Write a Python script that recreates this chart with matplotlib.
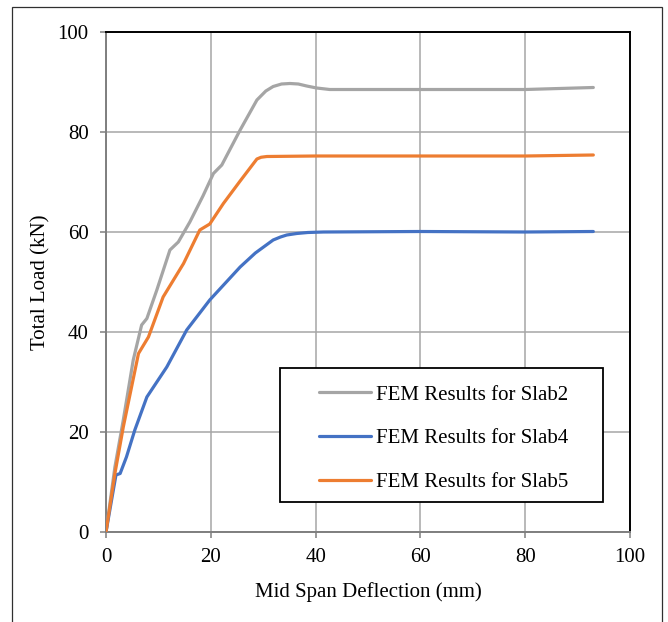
import matplotlib
matplotlib.use("Agg")
import matplotlib.pyplot as plt
from matplotlib.patches import Rectangle

plt.rcParams['font.family'] = ['Liberation Serif', 'DejaVu Serif']

# Slab2 (gray)
slab2_x = [0, 1.7, 3.3, 5.2, 6.8, 7.8, 9.7, 12.2, 13.8, 16, 18.5, 20.5, 22.1, 25.6,
           28.8, 30.5, 31.9, 33.5, 35.1, 36.7, 38.3, 40.2, 42.7, 54.2, 70, 80, 93]
slab2_y = [0, 13, 22.4, 34.4, 41.4, 42.7, 48.4, 56.4, 58, 62, 67.2, 71.7, 73.4, 80.4,
           86.4, 88.2, 89.1, 89.6, 89.7, 89.6, 89.2, 88.8, 88.5, 88.5, 88.5, 88.5, 88.9]
# Slab4 (blue)
slab4_x = [0, 1.9, 2.7, 3.9, 5.5, 7.8, 11.6, 15.4, 19.8, 25.6, 28.5, 31.9, 33.3, 34.5,
           36.4, 38.5, 41.5, 60, 80, 93]
slab4_y = [0, 11.4, 11.7, 15, 20.4, 27, 33, 40.4, 46.4, 53, 55.8, 58.4, 59.0, 59.4,
           59.7, 59.9, 60.0, 60.1, 60.0, 60.1]
# Slab5 (orange)
slab5_x = [0, 1.7, 3.3, 6.2, 8.1, 10.9, 14.8, 17.9, 19.8, 22.4, 25.6, 28.8, 29.6, 30.7,
           40, 60, 80, 93]
slab5_y = [0, 11.7, 21, 35.7, 39, 47, 53.7, 60.4, 61.6, 65.7, 70.2, 74.6, 74.95, 75.1,
           75.2, 75.2, 75.2, 75.4]

labels = ["FEM Results for Slab2", "FEM Results for Slab4", "FEM Results for Slab5"]
colors = ["#A5A5A5", "#4472C4", "#ED7D31"]
x_ticks = [0, 20, 40, 60, 80, 100]
y_ticks = [0, 20, 40, 60, 80, 100]

W, H = 668, 622
fig = plt.figure(figsize=(W / 100, H / 100), dpi=100)
ax = fig.add_axes([106 / W, (H - 532) / H, 524 / W, 500 / H])

for xs, ys, c, lab in zip([slab2_x, slab4_x, slab5_x], [slab2_y, slab4_y, slab5_y], colors, labels):
    ax.plot(xs, ys, color=c, lw=2.3, label=lab, solid_joinstyle='round',
            solid_capstyle='round', zorder=3)

ax.set_xlim(0, 100)
ax.set_ylim(0, 100)
ax.set_xticks(x_ticks)
ax.set_yticks(y_ticks)
ax.grid(True, color="#A6A6A6", lw=1.1, zorder=1)
ax.set_axisbelow(True)

for s in ['top', 'right']:
    ax.spines[s].set_color('black')
    ax.spines[s].set_linewidth(1.4)
for s in ['left', 'bottom']:
    ax.spines[s].set_color('#7F7F7F')
    ax.spines[s].set_linewidth(1.4)

FS = 15
ax.tick_params(axis='both', labelsize=FS, color='#7F7F7F', length=4.5, width=1.1)
ax.tick_params(axis='y', pad=8)
ax.tick_params(axis='x', pad=7)

ax.set_xlabel("Mid Span Deflection (mm)", fontsize=FS, labelpad=11)
ax.set_ylabel("Total Load (kN)", fontsize=FS, labelpad=5)

# legend box
box = Rectangle(((280 - 106) / 524, (532 - 502) / 500), (603 - 280) / 524, (502 - 368) / 500,
                transform=ax.transAxes, facecolor='white', edgecolor='black', lw=1.3, zorder=4)
ax.add_patch(box)
leg = ax.legend(loc='upper left', bbox_to_anchor=((319 - 106) / 524, (532 - 385) / 500),
                frameon=False, fontsize=FS, handlelength=2.5, handletextpad=0.25,
                labelspacing=1.16, borderpad=0, borderaxespad=0)
leg.set_zorder(5)

# outer border
fig.patches.append(Rectangle((12 / W, -0.05), (662 - 12) / W, (H - 7) / H + 0.05,
                             transform=fig.transFigure, fill=False, edgecolor='#303030', lw=0.9))

fig.savefig("out.png", dpi=100)
